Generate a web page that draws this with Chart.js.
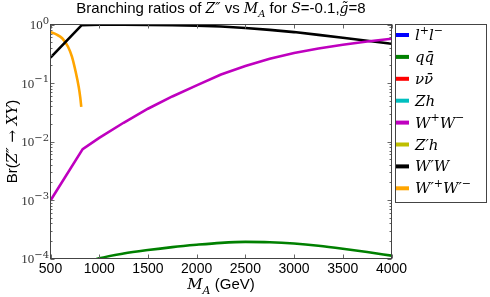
<!DOCTYPE html>
<html>
<head>
<meta charset="utf-8">
<script src="https://cdn.jsdelivr.net/npm/chart.js@4"></script>
<style>
  html, body { margin: 0; padding: 0; background: #fff; }
</style>
</head>
<body>
<canvas id="grafico" width="490" height="297"></canvas>
<script>
// values, M_A in GeV
const xTicks = [500, 1000, 1500, 2000, 2500, 3000, 3500, 4000];
const yDecades = [-4, -3, -2, -1, 0];

const canais = ['$l^+l^−$', '$qq\u0304$', '$νν\u0304$', '$Zh$', '$W^+W^−$', '$Z′h$', '$W′W$', '$W′^+W′^−$'];
const cores = ['#0000ff', '#008000', '#ff0000', '#00bfbf', '#bf00bf', '#bfbf00', '#000000', '#ffa500'];

// l+l-, nu nu, Zh, Z'h stay below 1e-4: nothing visible on this scale
const brLL = [];
const brNN = [];
const brZh = [];
const brZph = [];

const massQQ = [900, 1000, 1250, 1500, 1750, 2000, 2250, 2500, 2750, 3000, 3250, 3500, 3750, 4000];
const brQQ = [8.9e-5, 1.005e-4, 1.216e-4, 1.396e-4, 1.567e-4, 1.718e-4, 1.853e-4, 1.923e-4, 1.897e-4, 1.80e-4, 1.65e-4, 1.47e-4, 1.29e-4, 1.12e-4];

const massWW = [500, 830, 1000, 1250, 1500, 1750, 2000, 2250, 2500, 2750, 3000, 3250, 3500, 3750, 4000];
const brWW = [0.00098, 0.0074, 0.0115, 0.0209, 0.0363, 0.0589, 0.0912, 0.140, 0.195, 0.260, 0.327, 0.389, 0.452, 0.513, 0.569];

const massWpW = [500, 820, 1000, 1250, 1500, 1750, 2000, 2250, 2500, 2750, 3000, 3250, 3500, 3750, 4000];
const brWpW = [0.273, 0.972, 0.99, 0.991, 0.986, 0.975, 0.955, 0.922, 0.87, 0.81, 0.742, 0.665, 0.592, 0.527, 0.468];

const massWpWp = [500, 560, 620, 680, 720, 760, 790, 805, 816];
const brWpWp = [0.741, 0.676, 0.582, 0.417, 0.282, 0.151, 0.085, 0.0575, 0.039];

const pares = (xs, ys) => ys.map((v, i) => ({ x: xs[i], y: v }));

const SANS = '"Liberation Sans", Arial, sans-serif';
const SERIF = '"Liberation Serif", "Times New Roman", serif';
const MATH = '"DejaVu Serif", serif';

// tiny $...$ parser: text outside $ in sans, inside in italic serif with ^ and _
function rich(str, size, msize) {
    const segs = [];
    const sans = `${size}px ${SANS}`;
    const it = `italic ${msize}px ${MATH}`;
    const sm = `italic ${Math.round(msize * 0.72)}px ${MATH}`;
    let math = false, buf = '';
    const push = (text, font, dy) => { if (text) segs.push({ text, font, dy }); };
    for (let i = 0; i < str.length; i++) {
        const c = str[i];
        if (c === '$') { push(buf, math ? it : sans, 0); buf = ''; math = !math; continue; }
        if (math && (c === '^' || c === '_')) {
            push(buf, it, 0); buf = '';
            let s = str[++i];
            if (s === '{') { const j = str.indexOf('}', i); s = str.slice(i + 1, j); i = j; }
            push(s, sm, c === '^' ? -msize * 0.42 : msize * 0.3);
            continue;
        }
        buf += c;
    }
    push(buf, math ? it : sans, 0);
    return segs;
}

function drawRich(ctx, segs, x, y, align) {
    let w = 0;
    segs.forEach(s => { ctx.font = s.font; w += ctx.measureText(s.text).width; });
    let cx = align === 'center' ? x - w / 2 : align === 'right' ? x - w : x;
    ctx.textAlign = 'left';
    ctx.textBaseline = 'alphabetic';
    segs.forEach(s => {
        ctx.font = s.font;
        ctx.fillText(s.text, cx, y + s.dy);
        cx += ctx.measureText(s.text).width;
    });
}

const moldura = {
    id: 'moldura',
    afterDraw(chart) {
        const { ctx, chartArea: a, scales: { x, y } } = chart;
        ctx.save();
        ctx.fillStyle = '#000';

        // ticks pointing inwards, all four sides
        ctx.strokeStyle = '#666';
        ctx.lineWidth = 1;
        ctx.beginPath();
        xTicks.forEach(v => {
            const px = Math.round(x.getPixelForValue(v)) + 0.5;
            ctx.moveTo(px, a.bottom); ctx.lineTo(px, a.bottom - 4);
            ctx.moveTo(px, a.top); ctx.lineTo(px, a.top + 4);
        });
        yDecades.forEach(e => {
            for (let m = 1; m < 10; m++) {
                const v = m * Math.pow(10, e);
                if (v > 1) break;
                const py = Math.round(y.getPixelForValue(v)) + 0.5;
                const len = m === 1 ? 4 : 2;
                ctx.moveTo(a.left, py); ctx.lineTo(a.left + len, py);
                ctx.moveTo(a.right, py); ctx.lineTo(a.right - len, py);
            }
        });
        ctx.stroke();

        ctx.strokeStyle = '#444';
        ctx.strokeRect(a.left, a.top, a.right - a.left, a.bottom - a.top);

        // x tick labels
        ctx.font = `14px ${SANS}`;
        ctx.textAlign = 'center';
        ctx.textBaseline = 'top';
        xTicks.forEach(v => ctx.fillText(String(v), x.getPixelForValue(v), a.bottom + 3.5));

        // y tick labels 10^n
        ctx.fillStyle = '#333';
        yDecades.forEach(e => {
            const py = y.getPixelForValue(Math.pow(10, e));
            drawRich(ctx, [
                { text: '10', font: `13px ${SERIF}`, dy: 0 },
                { text: e === 0 ? '0' : '−' + (-e), font: `10px ${MATH}`, dy: -5.5 }
            ], a.left - 1.5, py + 4.5, 'right');
        });
        ctx.fillStyle = '#000';

        const meio = (a.left + a.right) / 2;
        drawRich(ctx, rich('Branching ratios of $Z″$ vs $M_A$ for $S$=-0.1,$g\u0303$=8', 15, 14), meio, 13, 'center');
        drawRich(ctx, rich('$M_A$ (GeV)', 15, 15), meio, 289, 'center');

        ctx.save();
        ctx.translate(16.5, (a.top + a.bottom) / 2);
        ctx.rotate(-Math.PI / 2);
        drawRich(ctx, rich('Br($Z″ → XY$)', 15, 15), 0, 0, 'center');
        ctx.restore();

        // legend in its own box on the right
        ctx.strokeStyle = '#444';
        ctx.strokeRect(395.5, 24.5, 91, 178);
        chart.data.datasets.forEach((ds, i) => {
            const cy = 35 + i * 21.9;
            ctx.fillStyle = ds.borderColor;
            ctx.fillRect(396, cy - 2, 13, 4);
            ctx.fillStyle = '#000';
            drawRich(ctx, rich(ds.label, 15, 15), 415, cy + 5, 'left');
        });
        ctx.restore();
    }
};

const series = [brLL, brQQ, brNN, brZh, brWW, brZph, brWpW, brWpWp];
const massas = [[], massQQ, [], [], massWW, [], massWpW, massWpWp];

const ctx = document.getElementById('grafico').getContext('2d');
const grafico = new Chart(ctx, {
    type: 'line',
    data: {
        datasets: canais.map((nome, i) => ({
            label: nome,
            data: pares(massas[i], series[i]),
            borderColor: cores[i],
            backgroundColor: cores[i],
            borderWidth: 2.6,
            pointRadius: 0,
            fill: false,
            cubicInterpolationMode: (i === 1 || i === 7) ? 'monotone' : 'default',
            tension: 0
        }))
    },
    plugins: [moldura],
    options: {
        responsive: false,
        animation: false,
        layout: { padding: { left: 50.5, right: 98.5, top: 24.5, bottom: 38.5 } },
        scales: {
            x: { type: 'linear', min: 500, max: 4000, display: false, ticks: { stepSize: 500 } },
            y: { type: 'logarithmic', min: 1e-4, max: 1, display: false }
        },
        plugins: {
            legend: { display: false },
            tooltip: { enabled: false }
        }
    }
});
</script>
</body>
</html>
